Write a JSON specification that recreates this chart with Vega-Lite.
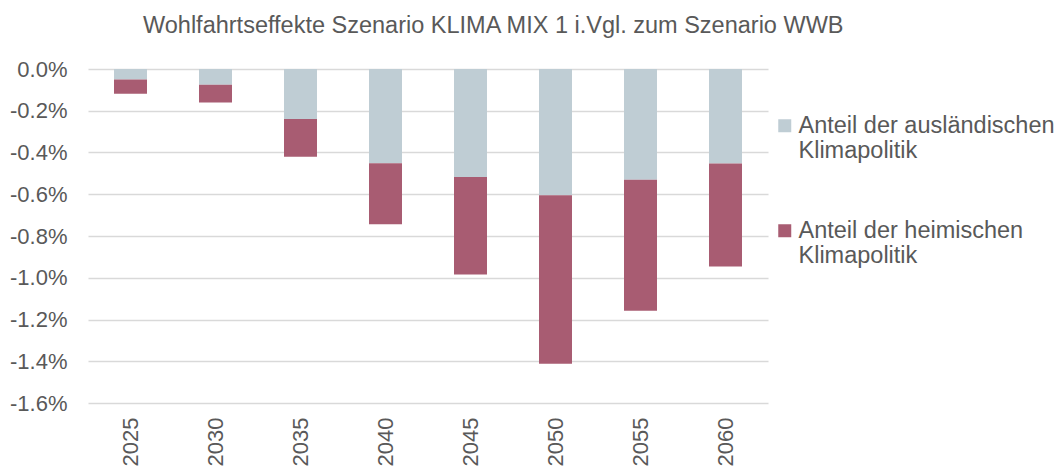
{
  "$schema": "https://vega.github.io/schema/vega-lite/v6.json",
  "width": 680,
  "height": 334,
  "autosize": {"type": "none"},
  "padding": {"left": 88, "top": 69, "right": 291, "bottom": 66},
  "background": "white",
  "title": {
    "text": "Wohlfahrtseffekte Szenario KLIMA MIX 1 i.Vgl. zum Szenario WWB",
    "anchor": "start",
    "frame": "group",
    "dx": 55,
    "offset": 21,
    "font": "Liberation Sans",
    "fontSize": 23.5,
    "fontWeight": "normal",
    "color": "#595959"
  },
  "data": {
    "values": [
      {"jahr": "2025", "anteil": "Anteil der ausländischen Klimapolitik", "wert": -0.05},
      {"jahr": "2025", "anteil": "Anteil der heimischen Klimapolitik", "wert": -0.068},
      {"jahr": "2030", "anteil": "Anteil der ausländischen Klimapolitik", "wert": -0.075},
      {"jahr": "2030", "anteil": "Anteil der heimischen Klimapolitik", "wert": -0.086},
      {"jahr": "2035", "anteil": "Anteil der ausländischen Klimapolitik", "wert": -0.239},
      {"jahr": "2035", "anteil": "Anteil der heimischen Klimapolitik", "wert": -0.181},
      {"jahr": "2040", "anteil": "Anteil der ausländischen Klimapolitik", "wert": -0.452},
      {"jahr": "2040", "anteil": "Anteil der heimischen Klimapolitik", "wert": -0.292},
      {"jahr": "2045", "anteil": "Anteil der ausländischen Klimapolitik", "wert": -0.517},
      {"jahr": "2045", "anteil": "Anteil der heimischen Klimapolitik", "wert": -0.468},
      {"jahr": "2050", "anteil": "Anteil der ausländischen Klimapolitik", "wert": -0.605},
      {"jahr": "2050", "anteil": "Anteil der heimischen Klimapolitik", "wert": -0.807},
      {"jahr": "2055", "anteil": "Anteil der ausländischen Klimapolitik", "wert": -0.531},
      {"jahr": "2055", "anteil": "Anteil der heimischen Klimapolitik", "wert": -0.627},
      {"jahr": "2060", "anteil": "Anteil der ausländischen Klimapolitik", "wert": -0.453},
      {"jahr": "2060", "anteil": "Anteil der heimischen Klimapolitik", "wert": -0.493}
    ]
  },
  "mark": {"type": "bar", "size": 33},
  "encoding": {
    "x": {
      "field": "jahr",
      "type": "ordinal",
      "scale": {"paddingInner": 0, "paddingOuter": 0},
      "axis": {
        "title": null,
        "labelAngle": -90,
        "ticks": false,
        "domain": false,
        "labelPadding": 14,
        "labelFont": "Liberation Sans",
        "labelFontSize": 22,
        "labelColor": "#595959"
      }
    },
    "y": {
      "field": "wert",
      "type": "quantitative",
      "stack": "zero",
      "scale": {"domain": [-1.6, 0], "nice": false, "zero": false},
      "axis": {
        "title": null,
        "values": [0, -0.2, -0.4, -0.6, -0.8, -1.0, -1.2, -1.4, -1.6],
        "labelExpr": "(datum.value < -0.0001 ? '-' : '') + format(abs(datum.value), '.1f') + '%'",
        "ticks": false,
        "domain": false,
        "labelPadding": 21,
        "labelFont": "Liberation Sans",
        "labelFontSize": 22,
        "labelColor": "#595959",
        "gridColor": "#D9D9D9",
        "gridWidth": 1.5
      }
    },
    "color": {
      "field": "anteil",
      "type": "nominal",
      "scale": {
        "domain": ["Anteil der ausländischen Klimapolitik", "Anteil der heimischen Klimapolitik"],
        "range": ["#BFCDD4", "#A85C72"]
      },
      "legend": {
        "title": null,
        "orient": "none",
        "legendX": 685,
        "legendY": 45,
        "padding": 0,
        "symbolType": "square",
        "symbolSize": 169,
        "symbolStrokeWidth": 0,
        "rowPadding": 55,
        "labelOffset": 2,
        "labelLimit": 400,
        "labelFont": "Liberation Sans",
        "labelFontSize": 23.5,
        "labelColor": "#595959",
        "labelExpr": "[slice(datum.label, 0, indexof(datum.label, ' Klimapolitik')), 'Klimapolitik']"
      }
    },
    "order": {"field": "anteil", "sort": "ascending"}
  },
  "config": {"view": {"stroke": null}}
}
